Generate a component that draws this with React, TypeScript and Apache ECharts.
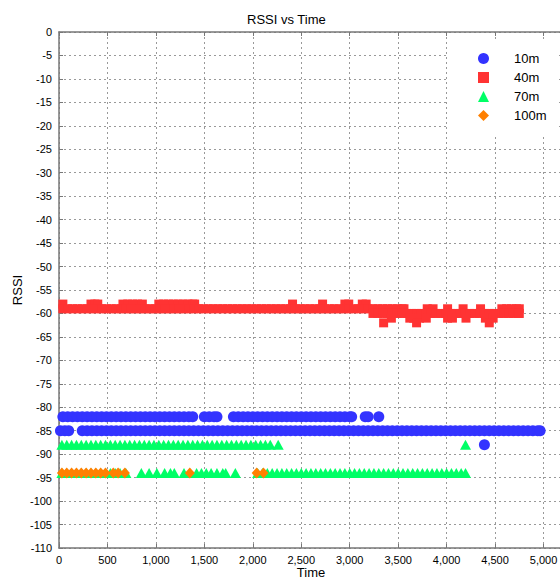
import React, { useEffect, useRef } from "react";
import * as echarts from "echarts";

// ---- Data ----
// 10m series (blue circles)
const blueAt82 = [40, 90, 140, 190, 240, 290, 340, 390, 440, 490, 540, 590, 640, 690, 740, 790, 840, 890, 940, 990, 1040, 1090, 1140, 1190, 1240, 1290, 1340, 1380,
  1500, 1550, 1600, 1630,
  1800, 1850, 1900, 1950, 2000, 2050, 2100, 2150, 2200, 2250, 2300, 2350, 2400, 2450, 2500, 2550, 2600, 2650, 2700, 2750, 2800, 2850, 2900, 2950, 3000, 3020,
  3160, 3190, 3300];
const blueAt85 = [15, 60, 100,
  240, 290, 340, 390, 440, 490, 540, 590, 640, 690, 740, 790, 840, 890, 940, 990, 1040, 1090, 1140, 1190, 1240, 1290, 1340, 1390, 1440, 1490,
  1540, 1590, 1640, 1690, 1740, 1790, 1840, 1890, 1940, 1990, 2040, 2090, 2140, 2190, 2240, 2290, 2340, 2390, 2440, 2490, 2540, 2590, 2640, 2690,
  2740, 2790, 2840, 2890, 2940, 2990, 3040, 3090, 3140, 3190, 3240, 3290, 3340, 3390, 3440, 3490, 3540, 3590, 3640, 3690, 3740, 3790, 3840, 3890,
  3940, 3990, 4040, 4090, 4140, 4190, 4240, 4290, 4340, 4390, 4440, 4490, 4540, 4590, 4640, 4690, 4740, 4790, 4840, 4890, 4940, 4965];
const blueAt88 = [4390];

// 40m series (red squares)
const redAt58 = [40, 330, 370, 400, 660, 710, 760, 810, 860, 1030, 1080, 1130, 1180, 1230, 1280, 1330, 1380, 1400, 2410, 2720, 2950, 2990, 3130, 3170];
const redAt59 = [40, 90, 140, 190, 240, 290, 340, 390, 440, 490, 540, 590, 640, 690, 740, 790, 840, 890, 940, 990, 1040, 1090, 1140, 1190, 1240,
  1290, 1340, 1390, 1440, 1490, 1540, 1590, 1640, 1690, 1740, 1790, 1840, 1890, 1940, 1990, 2040, 2090, 2140, 2190, 2240, 2290, 2340, 2390, 2440,
  2490, 2540, 2590, 2640, 2690, 2740, 2790, 2840, 2890, 2940, 2990, 3040, 3090, 3140, 3190, 3240,
  3290, 3340, 3390, 3440, 3490, 3540, 3560, 3800, 3860, 4010, 4170, 4350, 4570, 4620, 4670, 4720, 4750];
const redAt60 = [3240, 3290, 3340, 3390, 3440, 3490, 3540, 3590, 3640, 3690, 3740, 3790, 3840, 3890, 3940, 3990, 4040, 4090, 4140, 4190, 4240,
  4290, 4340, 4390, 4440, 4490, 4540, 4590, 4640, 4690, 4740, 4750];
const redAt61 = [3430, 3620, 3660, 3720, 3790, 4010, 4060, 4200, 4400, 4480];
const redAt62 = [3350, 3690, 4440];

// 70m series (green triangles)
const greenAt88 = [30, 80, 130, 180, 230, 280, 330, 380, 430, 480, 530, 580, 630, 680, 730, 780, 830, 880, 930, 980, 1030, 1080, 1130, 1180,
  1230, 1280, 1330, 1380, 1430, 1480, 1530, 1580, 1630, 1680, 1730, 1780, 1830, 1880, 1930, 1980, 2030, 2080, 2130, 2180, 2262, 4195];
const greenAt94 = [30, 80, 130, 180, 230, 280, 330, 380, 430, 480, 530, 580, 630, 690,
  850, 930, 1010, 1090, 1150, 1190, 1290, 1350, 1420, 1470, 1520, 1570, 1630, 1690, 1720, 1820,
  2050, 2100, 2150, 2200, 2250, 2300, 2350, 2400, 2450, 2500, 2550, 2600, 2650, 2700, 2750, 2800, 2850, 2900, 2950, 3000, 3050, 3100, 3150,
  3200, 3250, 3300, 3350, 3400, 3450, 3500, 3550, 3600, 3650, 3700, 3750, 3800, 3850, 3900, 3950, 4000, 4050, 4100, 4150, 4195];

// 100m series (orange diamonds)
const orangeAt94 = [30, 80, 130, 180, 230, 280, 330, 380, 430, 480, 560, 610, 680, 1350, 2040, 2110];

const seriesNames = ["10m", "40m", "70m", "100m"];
const xTicks = { min: 0, max: 5170, interval: 500 };
const yTicks = { min: -110, max: 0, interval: 5 };
const xAxisTitle = "Time";
const yAxisTitle = "RSSI";

const toPoints = (times: number[], rssi: number) => times.map((t) => [t, rssi]);

const data10m = [...toPoints(blueAt82, -82), ...toPoints(blueAt85, -85), ...toPoints(blueAt88, -88)];
const data40m = [...toPoints(redAt58, -58), ...toPoints(redAt59, -59), ...toPoints(redAt60, -60), ...toPoints(redAt61, -61), ...toPoints(redAt62, -62)];
const data70m = [...toPoints(greenAt88, -88), ...toPoints(greenAt94, -94)];
const data100m = [...toPoints(orangeAt94, -94)];

const FONT = "'Liberation Sans', Arial, Helvetica, sans-serif";
const AXIS_COLOR = "#777";
const GRID_LINE = { show: true, lineStyle: { color: "#999", type: [2, 3] as any, width: 1 } };

export default function App() {
  const ref = useRef<HTMLDivElement>(null);
  useEffect(() => {
    if (!ref.current) return;
    const chart = echarts.init(ref.current, undefined, { renderer: "svg" });
    chart.setOption({
      animation: false,
      backgroundColor: "#fff",
      textStyle: { fontFamily: FONT },
      title: {
        text: "RSSI vs Time",
        left: 242,
        top: 8,
        textStyle: { fontFamily: FONT, fontSize: 13, fontWeight: "normal", color: "#000" },
      },
      legend: {
        orient: "vertical",
        left: 448,
        top: 40,
        padding: [12, 10, 12, 30],
        backgroundColor: "#fff",
        itemWidth: 11,
        itemHeight: 11,
        itemGap: 6,
        textStyle: { fontFamily: FONT, fontSize: 13, color: "#000", padding: [0, 0, 0, 20] },
        data: seriesNames,
      },
      graphic: [
        {
          type: "text",
          x: 311,
          y: 572,
          style: { text: xAxisTitle, fontFamily: FONT, fontSize: 13, fill: "#000", textAlign: "center", textVerticalAlign: "middle" },
        },
        {
          type: "text",
          x: 17,
          y: 290,
          rotation: Math.PI / 2,
          style: { text: yAxisTitle, fontFamily: FONT, fontSize: 13, fill: "#000", textAlign: "center", textVerticalAlign: "middle" },
        },
      ],
      grid: { left: 59, right: 0, top: 32, bottom: 30, containLabel: false, outerBoundsMode: "none" },
      xAxis: [
        {
          type: "value",
          min: xTicks.min,
          max: xTicks.max,
          interval: xTicks.interval,
          axisLine: { show: true, onZero: false, lineStyle: { color: AXIS_COLOR, width: 1.5 } },
          axisTick: { show: true, inside: true, length: 4, lineStyle: { color: AXIS_COLOR } },
          axisLabel: {
            margin: 6,
            fontSize: 11,
            color: "#000",
            fontFamily: FONT,
            showMaxLabel: false,
            formatter: (v: number) => (v % 500 === 0 ? v.toLocaleString("en-US") : ""),
          },
          splitLine: GRID_LINE,
        },
        {
          type: "value",
          position: "top",
          min: xTicks.min,
          max: xTicks.max,
          interval: xTicks.interval,
          axisLine: { show: true, onZero: false, lineStyle: { color: AXIS_COLOR, width: 1.5 } },
          axisTick: { show: true, inside: true, length: 4, lineStyle: { color: AXIS_COLOR } },
          axisLabel: { show: false },
          splitLine: { show: false },
        },
      ],
      yAxis: {
        type: "value",
        min: yTicks.min,
        max: yTicks.max,
        interval: yTicks.interval,
        axisLine: { show: true, onZero: false, lineStyle: { color: AXIS_COLOR, width: 1.5 } },
        axisTick: { show: true, inside: true, length: 4, lineStyle: { color: AXIS_COLOR } },
        axisLabel: { margin: 7, fontSize: 11, color: "#000", fontFamily: FONT },
        splitLine: GRID_LINE,
      },
      series: [
        {
          name: "10m",
          type: "scatter",
          symbol: "circle",
          symbolSize: 11,
          itemStyle: { color: "#3333ff", opacity: 1 },
          data: data10m,
        },
        {
          name: "40m",
          type: "scatter",
          symbol: "rect",
          symbolSize: 9,
          itemStyle: { color: "#ff3333", opacity: 1 },
          data: data40m,
        },
        {
          name: "70m",
          type: "scatter",
          symbol: "triangle",
          symbolSize: [11, 10],
          itemStyle: { color: "#00ff66", opacity: 1 },
          data: data70m,
        },
        {
          name: "100m",
          type: "scatter",
          symbol: "diamond",
          symbolSize: [10, 11],
          itemStyle: { color: "#ff8000", opacity: 1 },
          data: data100m,
        },
      ],
    });
    return () => chart.dispose();
  }, []);
  return <div ref={ref} style={{ width: 560, height: 578, position: "absolute", left: 0, top: 0 }} />;
}
